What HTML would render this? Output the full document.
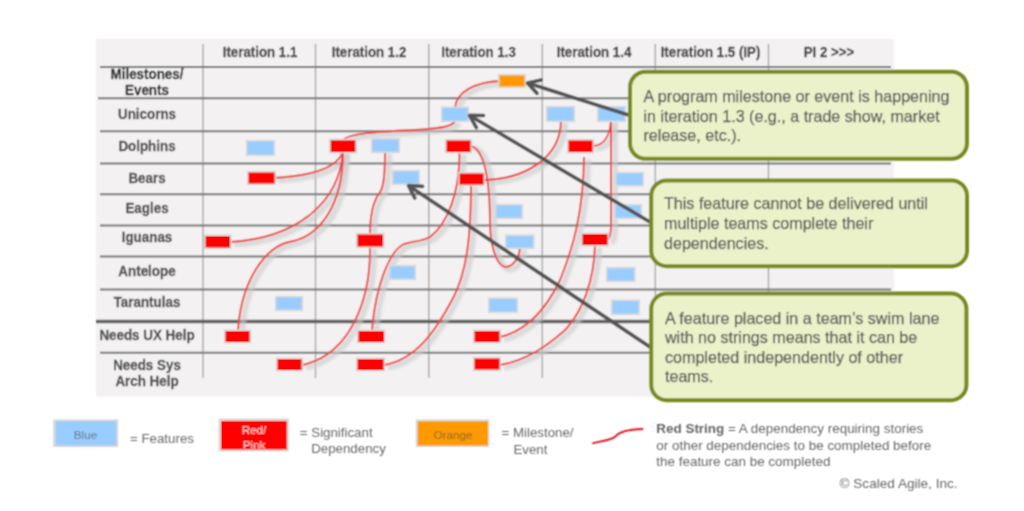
<!DOCTYPE html>
<html>
<head>
<meta charset="utf-8">
<style>
html,body{margin:0;padding:0;background:#ffffff;}
body{width:1024px;height:511px;overflow:hidden;position:relative;font-family:"Liberation Sans",sans-serif;}
svg{position:absolute;left:0;top:0;}
.hd{font-weight:bold;font-size:14px;fill:#474747;stroke:#474747;stroke-width:0.3px;text-anchor:middle;}
.lb{font-weight:bold;font-size:14px;fill:#4e4e4e;stroke:#4e4e4e;stroke-width:0.3px;text-anchor:middle;}
.co{font-size:16.1px;fill:#5a5a5a;stroke:#5a5a5a;stroke-width:0.25px;}
.lg{font-size:13.3px;fill:#686868;}
</style>
</head>
<body>
<svg width="1024" height="511" viewBox="0 0 1024 511">
<defs>
  <filter id="blur1" x="-20%" y="-20%" width="140%" height="140%"><feGaussianBlur stdDeviation="1.2"/></filter>
<g id="strpaths">
  <path d="M500,81 C475,82 456,92 455,108"/>
  <path d="M455,121 C452,127 440,128 420,129.7 C380,131.5 345,133 343,141"/>
  <path d="M343,151 C338,168 310,176 274,178"/>
  <path d="M343,151 C340,200 300,238 230,242"/>
  <path d="M343,152 C343,205 320,236 291,241.5 C266,246 241,280 238,331"/>
  <path d="M385,151 C385,180 383,190 378,195 C373,203 370,215 370,235"/>
  <path d="M370,246 C371,300 350,355 302,365"/>
  <path d="M459.5,152 C460,195 446,225 430,237 C420,242 412,241 404,244 C388,252 375,290 372,331"/>
  <path d="M471,184 C471,240 466,275 452,300 C435,332 415,360 384,365"/>
  <path d="M611,120 L611,225 C611,235 610,239 607,240"/>
  <path d="M611,120 C610,137 603,146 592,146"/>
  <path d="M471,146 C485,150 490,180 490,225 C491,255 500,268 507,267 C515,265 520,255 520,247"/>
  <path d="M584,157 C583.5,212 573,248 560,280 C548,305 530,330 500,337"/>
  <path d="M595,245 C594,282 582,312 565,330 C548,345 528,360 500,365"/>
  <path d="M561,120 C561,160 522,179 484,180"/>
</g>
  <filter id="gb" x="0" y="0" width="1024" height="511" filterUnits="userSpaceOnUse"><feConvolveMatrix order="3" kernelMatrix="1 2 1 2 4 2 1 2 1" divisor="16" edgeMode="duplicate" preserveAlpha="false"/></filter>
</defs>
<g filter="url(#gb)">
<!-- table background -->
<rect x="96" y="39" width="798" height="357.5" fill="#f3f1f1"/>

<!-- grid: vertical lines -->
<g stroke="#a3a3a3" stroke-width="1.3">
  <line x1="203" y1="44" x2="203" y2="378"/>
  <line x1="315.5" y1="44" x2="315.5" y2="378"/>
  <line x1="428.8" y1="44" x2="428.8" y2="378"/>
  <line x1="542.3" y1="44" x2="542.3" y2="378"/>
  <line x1="655.3" y1="44" x2="655.3" y2="378"/>
  <line x1="768.5" y1="44" x2="768.5" y2="378"/>
</g>
<!-- grid: horizontal lines -->
<g stroke="#777777" stroke-width="2">
  <line x1="100" y1="67" x2="891" y2="67"/>
  <line x1="98" y1="98.2" x2="891" y2="98.2"/>
  <line x1="100" y1="131.2" x2="891" y2="131.2"/>
  <line x1="100" y1="163.6" x2="891" y2="163.6"/>
  <line x1="100" y1="194.2" x2="891" y2="194.2"/>
  <line x1="100" y1="225.5" x2="891" y2="225.5"/>
  <line x1="100" y1="256.5" x2="891" y2="256.5"/>
  <line x1="100" y1="289.5" x2="891" y2="289.5"/>
  <line x1="100" y1="352.7" x2="891" y2="352.7"/>
</g>
<line x1="96" y1="321.5" x2="891" y2="321.5" stroke="#646464" stroke-width="3.4"/>

<!-- header text -->
<g class="hd">
  <text transform="translate(260,57.2) scale(0.95,1)">Iteration 1.1</text>
  <text transform="translate(369,57.2) scale(0.95,1)">Iteration 1.2</text>
  <text transform="translate(478.5,57.2) scale(0.95,1)">Iteration 1.3</text>
  <text transform="translate(594,57.2) scale(0.95,1)">Iteration 1.4</text>
  <text transform="translate(710.5,57.2) scale(0.95,1)">Iteration 1.5 (IP)</text>
  <text transform="translate(829,57.2) scale(0.95,1)">PI 2 &gt;&gt;&gt;</text>
</g>
<!-- row labels -->
<g class="lb">
  <text transform="translate(147,79.3) scale(0.957,1)" style="fill:#2f2f2f;stroke:#2f2f2f">Milestones/</text>
  <text transform="translate(147,95) scale(0.957,1)" style="fill:#2f2f2f;stroke:#2f2f2f">Events</text>
  <text transform="translate(147,119) scale(0.957,1)">Unicorns</text>
  <text transform="translate(147,150.5) scale(0.957,1)">Dolphins</text>
  <text transform="translate(147,182.8) scale(0.957,1)">Bears</text>
  <text transform="translate(147,213) scale(0.957,1)">Eagles</text>
  <text transform="translate(147,242) scale(0.957,1)">Iguanas</text>
  <text transform="translate(147,275.8) scale(0.957,1)">Antelope</text>
  <text transform="translate(147,307.2) scale(0.957,1)">Tarantulas</text>
  <text transform="translate(147,340) scale(0.957,1)">Needs UX Help</text>
  <text transform="translate(147,370.2) scale(0.957,1)">Needs Sys</text>
  <text transform="translate(147,386.4) scale(0.957,1)">Arch Help</text>
</g>

<!-- string shadows -->
<g fill="none" stroke="#cdcdcd" stroke-opacity="0.62" stroke-width="6" transform="translate(4,2.5)" filter="url(#blur1)">
  <use href="#strpaths"/>
</g>
<!-- red strings -->
<g fill="none" stroke="#f04040" stroke-width="1.9"><use href="#strpaths"/></g>

<!-- boxes -->
<g fill="#dadada">
  <rect x="497.9" y="73.9" width="28.2" height="14.2"/>
  <rect x="440.9" y="106.4" width="28.2" height="15.7"/>
  <rect x="545.9" y="105.9" width="29.2" height="16.2"/>
  <rect x="596.9" y="105.9" width="29.2" height="16.2"/>
  <rect x="245.9" y="139.9" width="29.2" height="16.2"/>
  <rect x="370.9" y="137.9" width="29.2" height="15.2"/>
  <rect x="391.9" y="169.9" width="28.2" height="15.2"/>
  <rect x="614.9" y="171.9" width="29.2" height="14.7"/>
  <rect x="494.9" y="203.9" width="28.2" height="15.2"/>
  <rect x="613.9" y="203.9" width="28.2" height="15.2"/>
  <rect x="504.9" y="234.4" width="29.7" height="14.7"/>
  <rect x="388.9" y="264.9" width="27.2" height="15.2"/>
  <rect x="605.9" y="266.9" width="29.7" height="15.2"/>
  <rect x="274.9" y="295.9" width="28.2" height="15.2"/>
  <rect x="487.9" y="297.4" width="30.2" height="15.7"/>
  <rect x="610.9" y="299.4" width="29.2" height="15.7"/>
  <rect x="329.1" y="138.7" width="27.8" height="14.8"/>
  <rect x="444.9" y="138.9" width="27.2" height="14.7"/>
  <rect x="566.9" y="138.9" width="27.2" height="14.7"/>
  <rect x="246.9" y="170.9" width="29.2" height="14.2"/>
  <rect x="457.9" y="171.9" width="27.2" height="14.2"/>
  <rect x="203.9" y="234.4" width="27.7" height="14.7"/>
  <rect x="355.9" y="232.9" width="28.7" height="15.2"/>
  <rect x="580.9" y="232.4" width="28.2" height="14.2"/>
  <rect x="223.9" y="329.4" width="27.2" height="14.2"/>
  <rect x="356.9" y="329.4" width="28.7" height="14.2"/>
  <rect x="472.9" y="329.4" width="28.2" height="14.2"/>
  <rect x="275.9" y="357.4" width="27.2" height="14.2"/>
  <rect x="355.9" y="357.4" width="29.2" height="14.2"/>
  <rect x="472.9" y="356.9" width="28.2" height="14.2"/>
</g>
<rect x="499.5" y="75.5" width="25" height="11" fill="#ff9900"/>
<rect x="442.5" y="108" width="25" height="12.5" fill="#99ccff"/>
<rect x="547.5" y="107.5" width="26" height="13" fill="#99ccff"/>
<rect x="598.5" y="107.5" width="26" height="13" fill="#99ccff"/>
<rect x="247.5" y="141.5" width="26" height="13" fill="#99ccff"/>
<rect x="372.5" y="139.5" width="26" height="12" fill="#99ccff"/>
<rect x="393.5" y="171.5" width="25" height="12" fill="#99ccff"/>
<rect x="616.5" y="173.5" width="26" height="11.5" fill="#99ccff"/>
<rect x="496.5" y="205.5" width="25" height="12" fill="#99ccff"/>
<rect x="615.5" y="205.5" width="25" height="12" fill="#99ccff"/>
<rect x="506.5" y="236" width="26.5" height="11.5" fill="#99ccff"/>
<rect x="390.5" y="266.5" width="24" height="12" fill="#99ccff"/>
<rect x="607.5" y="268.5" width="26.5" height="12" fill="#99ccff"/>
<rect x="276.5" y="297.5" width="25" height="12" fill="#99ccff"/>
<rect x="489.5" y="299" width="27" height="12.5" fill="#99ccff"/>
<rect x="612.5" y="301" width="26" height="12.5" fill="#99ccff"/>
<rect x="330.7" y="140.3" width="24.6" height="11.6" fill="#ff0000"/>
<rect x="446.5" y="140.5" width="24" height="11.5" fill="#ff0000"/>
<rect x="568.5" y="140.5" width="24" height="11.5" fill="#ff0000"/>
<rect x="248.5" y="172.5" width="26" height="11" fill="#ff0000"/>
<rect x="459.5" y="173.5" width="24" height="11" fill="#ff0000"/>
<rect x="205.5" y="236" width="24.5" height="11.5" fill="#ff0000"/>
<rect x="357.5" y="234.5" width="25.5" height="12" fill="#ff0000"/>
<rect x="582.5" y="234" width="25" height="11" fill="#ff0000"/>
<rect x="225.5" y="331" width="24" height="11" fill="#ff0000"/>
<rect x="358.5" y="331" width="25.5" height="11" fill="#ff0000"/>
<rect x="474.5" y="331" width="25" height="11" fill="#ff0000"/>
<rect x="277.5" y="359" width="24" height="11" fill="#ff0000"/>
<rect x="357.5" y="359" width="26" height="11" fill="#ff0000"/>
<rect x="474.5" y="358.5" width="25" height="11" fill="#ff0000"/>

<!-- arrows -->
<g fill="none" stroke="#555555" stroke-width="3.7" stroke-linecap="round" stroke-linejoin="round">
  <line x1="628.5" y1="115" x2="528.5" y2="83.3"/>
  <polyline points="541.2,80 527.5,83 537,93.3"/>
  <line x1="650" y1="222" x2="470.5" y2="116"/>
  <polyline points="483.5,115.5 469.5,115.4 476.4,127.6"/>
  <line x1="650" y1="347" x2="409.5" y2="186.2"/>
  <polyline points="422.5,186.4 408.5,185.5 414.7,198"/>
</g>

<!-- callouts -->
<g fill="#ebf1c9" stroke="#788b1d" stroke-width="4">
  <rect x="630" y="71.7" width="336.9" height="87.1" rx="15.5" ry="15.5"/>
  <rect x="651.2" y="180.4" width="315.8" height="85.8" rx="15.5" ry="15.5"/>
  <rect x="651.2" y="293.6" width="315.2" height="106.6" rx="15.5" ry="15.5"/>
</g>
<g class="co">
  <text x="643.5" y="102">A program milestone or event is happening</text>
  <text x="643.5" y="121.6">in iteration 1.3 (e.g., a trade show, market</text>
  <text x="643.5" y="141.1">release, etc.).</text>
  <text x="664" y="209">This feature cannot be delivered until</text>
  <text x="664" y="228.9">multiple teams complete their</text>
  <text x="664" y="248.7">dependencies.</text>
  <text x="665" y="323.8">A feature placed in a team’s swim lane</text>
  <text x="665" y="343.3">with no strings means that it can be</text>
  <text x="665" y="363.1">completed independently of other</text>
  <text x="665" y="382.3">teams.</text>
</g>

<!-- legend -->
<g fill="#d9d9d9">
  <rect x="53.2" y="419.4" width="65" height="27.7"/>
  <rect x="218.5" y="418.5" width="70.5" height="32.9"/>
  <rect x="415.7" y="419.4" width="73.7" height="27.6"/>
</g>
<rect x="55.7" y="421.3" width="60.6" height="24.2" fill="#99ccff"/>
<rect x="221.1" y="420.9" width="65.7" height="28.5" fill="#ff0000"/>
<rect x="417.7" y="421.3" width="70.3" height="24.2" fill="#ff9900"/>
<clipPath id="redclip"><rect x="221.1" y="420.9" width="65.7" height="28.5"/></clipPath>
<g font-size="11.7" text-anchor="middle">
  <text x="85.5" y="438.5" fill="#68717c">Blue</text>
  <g clip-path="url(#redclip)" fill="#fbdada">
  <text x="254" y="434" >Red/</text>
  <text x="254" y="448.8">Pink</text>
  </g>
  <text x="453" y="438.5" fill="#7f6a2a">Orange</text>
</g>
<g class="lg">
  <text x="130" y="443.2">= Features</text>
  <text x="299.8" y="437.3">= Significant</text>
  <text x="311.2" y="453.2">Dependency</text>
  <text x="501.5" y="437.3">= Milestone/</text>
  <text x="513.4" y="453.6">Event</text>
  <text x="839.5" y="488.1" font-size="13.6">© Scaled Agile, Inc.</text>
</g>
<path d="M593,443.2 C603,441 612,440 616,436 C620,431 630,429.5 642.5,429" fill="none" stroke="#e8141e" stroke-width="1.8" stroke-linecap="round"/>
<g font-size="13.45" fill="#666666">
  <text x="656.3" y="433.4"><tspan font-weight="bold">Red String</tspan> = A dependency requiring stories</text>
  <text x="656.3" y="449.6">or other dependencies to be completed before</text>
  <text x="656.3" y="465.7">the feature can be completed</text>
</g>
</g>
</svg>
</body>
</html>
